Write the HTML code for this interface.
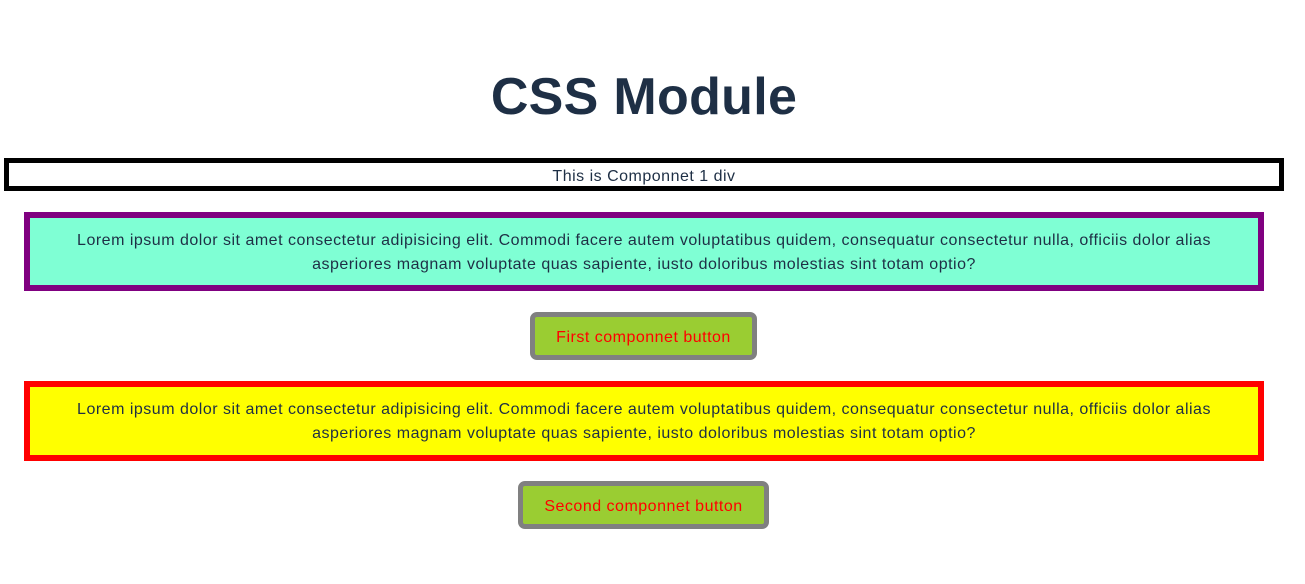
<!DOCTYPE html>
<html><head><style>
body{margin:0;width:1305px;height:584px;background:#fff;font-family:"Liberation Sans",sans-serif;color:#1e2f45;position:relative;overflow:hidden}
.a{position:absolute;box-sizing:border-box;text-align:center;font-size:16px;letter-spacing:0.5px;white-space:nowrap}
h1{position:absolute;left:0;width:1288px;top:65px;margin:0;text-align:center;font-size:52px;font-weight:bold;line-height:64px;color:#1e2f45;letter-spacing:0.3px}
</style></head><body>
<h1>CSS Module</h1>
<div class="a" style="left:4px;top:158px;width:1280px;height:33px;border:5px solid #000;line-height:27px">This is Componnet 1 div</div>
<div class="a" style="left:24px;top:212px;width:1240px;height:79px;border:6px solid #800080;background:#7fffd4;padding-top:11px;line-height:24px">Lorem ipsum dolor sit amet consectetur adipisicing elit. Commodi facere autem voluptatibus quidem, consequatur consectetur nulla, officiis dolor alias<br>asperiores magnam voluptate quas sapiente, iusto doloribus molestias sint totam optio?</div>
<div class="a" style="left:530px;top:312px;width:227px;height:48px;border:5px solid #808080;border-radius:7px;background:#9acd32;color:#f00;line-height:42px">First componnet button</div>
<div class="a" style="left:24px;top:381px;width:1240px;height:80px;border:6px solid #f00;background:#ff0;padding-top:11px;line-height:24px">Lorem ipsum dolor sit amet consectetur adipisicing elit. Commodi facere autem voluptatibus quidem, consequatur consectetur nulla, officiis dolor alias<br>asperiores magnam voluptate quas sapiente, iusto doloribus molestias sint totam optio?</div>
<div class="a" style="left:518px;top:481px;width:251px;height:48px;border:5px solid #808080;border-radius:7px;background:#9acd32;color:#f00;line-height:42px">Second componnet button</div>
</body></html>
